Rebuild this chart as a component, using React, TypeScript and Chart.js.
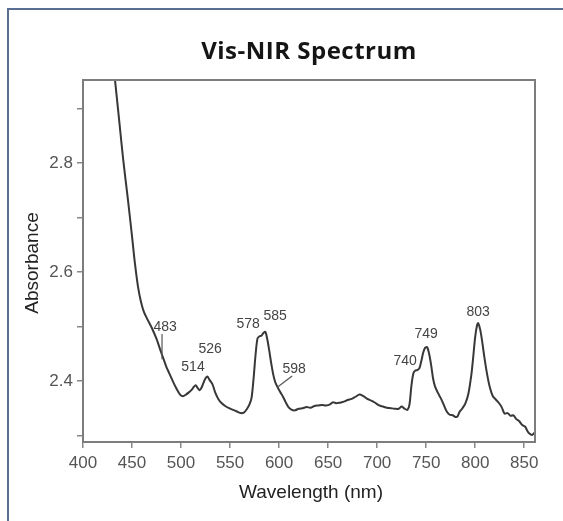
import React, { useEffect, useRef } from 'react';
import { Chart, registerables } from 'chart.js';

Chart.register(...registerables);

const wavelengths = [
  431, 433, 437, 441, 446, 450, 453, 456, 459, 462, 466, 470, 475, 479, 482, 485, 488, 491, 495, 499,
  502, 505, 508, 511, 513, 515, 517, 519, 521, 523, 525, 527, 529, 532, 535, 538, 541, 545, 549, 553,
  557, 561, 564, 567, 570, 572, 574, 576, 578, 580, 582, 584, 586, 588, 590, 592, 594, 596, 598, 601,
  604, 607, 610, 613, 616, 620, 624, 628, 632, 636, 640, 644, 648, 652, 655, 658, 662, 666, 670, 674,
  678, 682, 686, 690, 694, 698, 702, 706, 710, 714, 718, 722, 725, 728, 731, 733, 735, 737, 739, 741,
  743, 745, 747, 749, 751, 753, 755, 757, 759, 762, 765, 768, 771, 774, 777, 780, 782, 784, 787, 790,
  793, 796, 798, 800, 802, 803, 805, 807, 809, 812, 815, 818, 821, 824, 827, 830, 833, 836, 839, 842,
  845, 848, 851, 853, 855, 858, 861,
];

const absorbance = [
  2.98, 2.946, 2.876, 2.806, 2.73, 2.665, 2.615, 2.574, 2.546, 2.527, 2.512, 2.498, 2.477, 2.456, 2.441, 2.426, 2.414, 2.402, 2.387, 2.375,
  2.372, 2.375, 2.379, 2.384, 2.389, 2.392, 2.387, 2.383, 2.388, 2.397, 2.405, 2.408, 2.402, 2.394, 2.378, 2.367, 2.36, 2.354, 2.35, 2.347,
  2.344, 2.341, 2.342, 2.348, 2.358, 2.37, 2.405, 2.448, 2.478, 2.482, 2.483, 2.488, 2.49, 2.476, 2.455, 2.432, 2.412, 2.398, 2.39, 2.38,
  2.371, 2.36, 2.351, 2.347, 2.346, 2.349, 2.35, 2.352, 2.351, 2.354, 2.355, 2.356, 2.355, 2.357, 2.361, 2.359, 2.36, 2.362, 2.365, 2.367,
  2.371, 2.375, 2.372, 2.367, 2.364, 2.36, 2.355, 2.353, 2.351, 2.35, 2.349, 2.349, 2.353, 2.349, 2.347, 2.357, 2.392, 2.414, 2.419, 2.42,
  2.423, 2.436, 2.452, 2.461, 2.462, 2.45, 2.43, 2.405, 2.39, 2.378, 2.368, 2.356, 2.344, 2.338, 2.337, 2.334, 2.335, 2.343, 2.35, 2.359,
  2.376, 2.41, 2.444, 2.481, 2.503, 2.506, 2.495, 2.474, 2.448, 2.414, 2.388, 2.372, 2.366, 2.36, 2.352, 2.34, 2.341, 2.336, 2.337, 2.33,
  2.326, 2.319, 2.316, 2.309, 2.304, 2.301, 2.306,
];

const xTicks = [400, 450, 500, 550, 600, 650, 700, 750, 800, 850];
const yTicks = [2.3, 2.4, 2.5, 2.6, 2.7, 2.8, 2.9];
const yLabelledTicks = [2.4, 2.6, 2.8];

const peakLabels = ['483', '514', '526', '578', '585', '598', '740', '749', '803'];
const peakLabelWl = [483.7, 512.2, 529.6, 568.4, 595.9, 615.3, 728.6, 750, 803];
const peakLabelAbs = [2.499, 2.426, 2.459, 2.505, 2.519, 2.422, 2.437, 2.486, 2.527];

// leader lines
const leaderStartWl = [480.6, 613.3];
const leaderStartAbs = [2.486, 2.409];
const leaderEndWl = [480.6, 598.5];
const leaderEndAbs = [2.44, 2.389];

const titleText = 'Vis-NIR Spectrum';
const xTitle = 'Wavelength (nm)';
const yTitle = 'Absorbance';

const W = 563;
const H = 521;

export default function App() {
  const ref = useRef<HTMLCanvasElement | null>(null);

  useEffect(() => {
    const canvas = ref.current;
    if (!canvas) return;

    const textPlugin = {
      id: 'textPlugin',
      afterDraw(chart: any) {
        const ctx = chart.ctx;
        const { left, right, top, bottom } = chart.chartArea;
        const xs = chart.scales.x;
        const ys = chart.scales.y;
        ctx.save();
        ctx.strokeStyle = '#7d7d7d';
        ctx.lineWidth = 2;
        ctx.strokeRect(left, top, right - left, bottom - top);

        // title
        ctx.fillStyle = '#151515';
        ctx.font = 'bold 24px "Open Sans", sans-serif';
        ctx.textAlign = 'center';
        ctx.textBaseline = 'middle';
        try {
          (ctx as any).letterSpacing = '0.5px';
        } catch (e) {}
        ctx.fillText(titleText, (left + right) / 2, 52);
        try {
          (ctx as any).letterSpacing = '0px';
        } catch (e) {}

        // x title
        ctx.fillStyle = '#222';
        ctx.font = '19px "Liberation Sans", Arial, sans-serif';
        ctx.fillText(xTitle, (left + right) / 2 + 2, 493);

        // y title
        ctx.save();
        ctx.translate(33, (top + bottom) / 2 + 2);
        ctx.rotate(-Math.PI / 2);
        ctx.fillText(yTitle, 0, 0);
        ctx.restore();

        // peak labels
        ctx.fillStyle = '#444';
        ctx.font = '14px "Liberation Sans", Arial, sans-serif';
        for (let i = 0; i < peakLabels.length; i++) {
          ctx.fillText(peakLabels[i], xs.getPixelForValue(peakLabelWl[i]), ys.getPixelForValue(peakLabelAbs[i]));
        }
        // leader lines
        ctx.strokeStyle = '#555';
        ctx.lineWidth = 1.2;
        for (let i = 0; i < leaderStartWl.length; i++) {
          ctx.beginPath();
          ctx.moveTo(xs.getPixelForValue(leaderStartWl[i]), ys.getPixelForValue(leaderStartAbs[i]));
          ctx.lineTo(xs.getPixelForValue(leaderEndWl[i]), ys.getPixelForValue(leaderEndAbs[i]));
          ctx.stroke();
        }
        ctx.restore();
      },
    };

    const chart = new Chart(canvas, {
      type: 'line',
      data: {
        datasets: [
          {
            data: wavelengths.map((w, i) => ({ x: w, y: absorbance[i] })),
            borderColor: '#383838',
            borderWidth: 2,
            pointRadius: 0,
            tension: 0.3,
            fill: false,
          },
        ],
      },
      options: {
        responsive: false,
        animation: false,
        devicePixelRatio: 1,
        layout: { padding: { top: 80, right: 28, left: 0, bottom: 0 } },
        plugins: {
          legend: { display: false },
          title: { display: false },
          tooltip: { enabled: false },
        },
        scales: {
          x: {
            type: 'linear',
            min: 400,
            max: 861,
            afterBuildTicks: (scale: any) => {
              scale.ticks = xTicks.map((v) => ({ value: v }));
            },
            afterFit: (scale: any) => {
              scale.height = H - 442;
            },
            ticks: {
              autoSkip: false,
              maxRotation: 0,
              minRotation: 0,
              padding: 5,
              color: '#555',
              font: { family: '"Liberation Sans", Arial, sans-serif', size: 17 },
              callback: (v: any) => String(v),
            },
            grid: {
              drawOnChartArea: false,
              drawTicks: true,
              tickLength: 6,
              color: '#888',
              lineWidth: 1.5,
            },
            border: { display: true, color: '#7d7d7d', width: 2 },
          },
          y: {
            type: 'linear',
            min: 2.288,
            max: 2.952,
            afterBuildTicks: (scale: any) => {
              scale.ticks = yTicks.map((v) => ({ value: v }));
            },
            afterFit: (scale: any) => {
              scale.width = 83;
            },
            ticks: {
              padding: 4,
              color: '#555',
              font: { family: '"Liberation Sans", Arial, sans-serif', size: 17 },
              callback: (v: any) => {
                const n = Number(v);
                return yLabelledTicks.some((t) => Math.abs(t - n) < 1e-6) ? n.toFixed(1) : '';
              },
            },
            grid: {
              drawOnChartArea: false,
              drawTicks: true,
              tickLength: 6,
              color: '#888',
              lineWidth: 1.5,
            },
            border: { display: true, color: '#7d7d7d', width: 2 },
          },
        },
      },
      plugins: [textPlugin],
    } as any);

    return () => {
      chart.destroy();
    };
  }, []);

  return (
    <div style={{ position: 'fixed', left: 0, top: 0, right: 0, bottom: 0, background: '#fff', overflow: 'hidden' }}>
      <div
        style={{
          position: 'absolute',
          left: 7,
          top: 8,
          width: 600,
          height: 600,
          borderLeft: '2px solid #5a6e94',
          borderTop: '2px solid #5a6e94',
        }}
      />
      <canvas ref={ref} width={W} height={H} style={{ position: 'absolute', left: 0, top: 0, width: W, height: H }} />
    </div>
  );
}
